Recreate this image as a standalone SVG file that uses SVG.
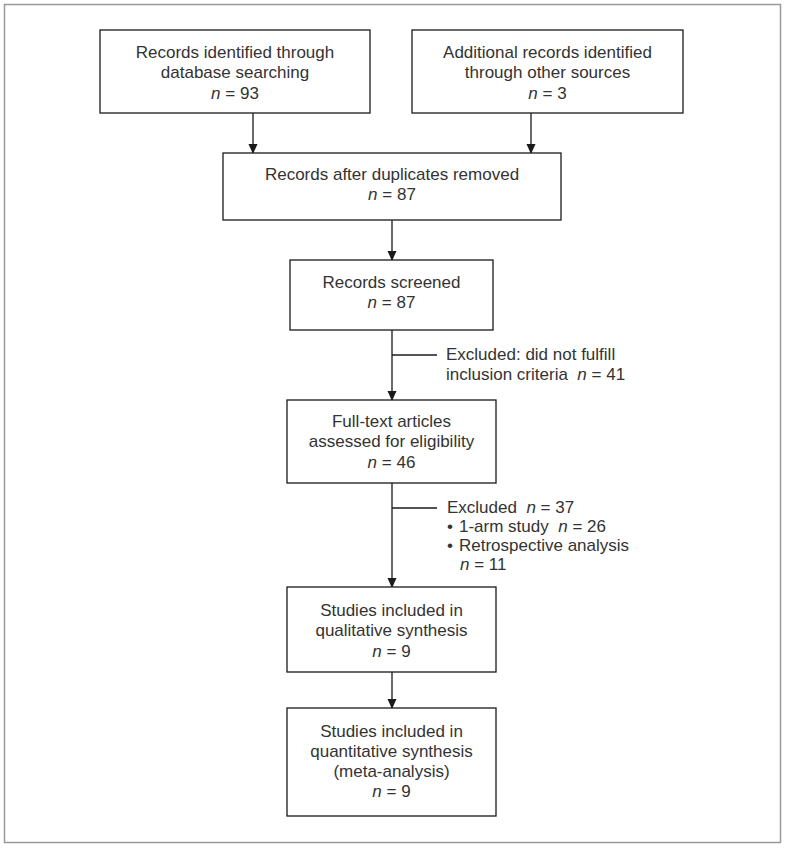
<svg xmlns="http://www.w3.org/2000/svg" width="786" height="848" viewBox="0 0 786 848">
<defs>
<marker id="ah" markerWidth="10" markerHeight="10" refX="9" refY="5" orient="auto" markerUnits="userSpaceOnUse">
<path d="M0,0.5 L10,5 L0,9.5 Z" fill="#1a1a1a"/>
</marker>
<style>
.box{fill:#fff;stroke:#1a1a1a;stroke-width:1.3}
.t{font-family:"Liberation Sans",Arial,sans-serif;font-size:17px;fill:#333}
.c{text-anchor:middle}
.ln{stroke:#1a1a1a;stroke-width:1.3;fill:none}
</style>
</defs>
<rect x="0" y="0" width="786" height="848" fill="#fff"/>
<rect x="4.5" y="4.5" width="776" height="838" fill="none" stroke="#999" stroke-width="1.5"/>
<g id="connectors">
<line class="ln" x1="253" y1="113" x2="253" y2="153" marker-end="url(#ah)"/>
<line class="ln" x1="531" y1="113" x2="531" y2="153" marker-end="url(#ah)"/>
<line class="ln" x1="392" y1="220" x2="392" y2="260" marker-end="url(#ah)"/>
<line class="ln" x1="392" y1="330" x2="392" y2="400" marker-end="url(#ah)"/>
<line class="ln" x1="392" y1="355" x2="437" y2="355"/>
<line class="ln" x1="392" y1="483" x2="392" y2="587" marker-end="url(#ah)"/>
<line class="ln" x1="392" y1="508" x2="437" y2="508"/>
<line class="ln" x1="392" y1="672" x2="392" y2="708" marker-end="url(#ah)"/>
</g>
<g id="n1">
<rect class="box" x="100" y="30" width="270" height="83"/>
<text class="t c" x="235" y="58">Records identified through</text>
<text class="t c" x="235" y="78">database searching</text>
<text class="t c" x="235" y="99"><tspan font-style="italic">n</tspan> = 93</text>
</g>
<g id="n2">
<rect class="box" x="412" y="30" width="271" height="83"/>
<text class="t c" x="547.5" y="58">Additional records identified</text>
<text class="t c" x="547.5" y="78">through other sources</text>
<text class="t c" x="547.5" y="99"><tspan font-style="italic">n</tspan> = 3</text>
</g>
<g id="n3">
<rect class="box" x="223" y="153" width="338" height="67"/>
<text class="t c" x="392" y="180">Records after duplicates removed</text>
<text class="t c" x="392" y="200"><tspan font-style="italic">n</tspan> = 87</text>
</g>
<g id="n4">
<rect class="box" x="290" y="260" width="203" height="70"/>
<text class="t c" x="391.5" y="288">Records screened</text>
<text class="t c" x="391.5" y="308"><tspan font-style="italic">n</tspan> = 87</text>
</g>
<g id="e1">
<text class="t" x="446" y="360">Excluded: did not fulfill</text>
<text class="t" x="446" y="380" xml:space="preserve">inclusion criteria  <tspan font-style="italic">n</tspan> = 41</text>
</g>
<g id="n5">
<rect class="box" x="287" y="400" width="209" height="83"/>
<text class="t c" x="391.5" y="427">Full-text articles</text>
<text class="t c" x="391.5" y="447">assessed for eligibility</text>
<text class="t c" x="391.5" y="468"><tspan font-style="italic">n</tspan> = 46</text>
</g>
<g id="e2">
<text class="t" x="447" y="513" xml:space="preserve">Excluded  <tspan font-style="italic">n</tspan> = 37</text>
<text class="t" x="447" y="532">•</text>
<text class="t" x="459" y="532" xml:space="preserve">1-arm study  <tspan font-style="italic">n</tspan> = 26</text>
<text class="t" x="447" y="551">•</text>
<text class="t" x="459" y="551">Retrospective analysis</text>
<text class="t" x="460" y="570"><tspan font-style="italic">n</tspan> = 11</text>
</g>
<g id="n6">
<rect class="box" x="287" y="587" width="209" height="85"/>
<text class="t c" x="391.5" y="616">Studies included in</text>
<text class="t c" x="391.5" y="636">qualitative synthesis</text>
<text class="t c" x="391.5" y="657"><tspan font-style="italic">n</tspan> = 9</text>
</g>
<g id="n7">
<rect class="box" x="287" y="708" width="209" height="108"/>
<text class="t c" x="391.5" y="737">Studies included in</text>
<text class="t c" x="391.5" y="757">quantitative synthesis</text>
<text class="t c" x="391.5" y="777">(meta-analysis)</text>
<text class="t c" x="391.5" y="797"><tspan font-style="italic">n</tspan> = 9</text>
</g>
</svg>
